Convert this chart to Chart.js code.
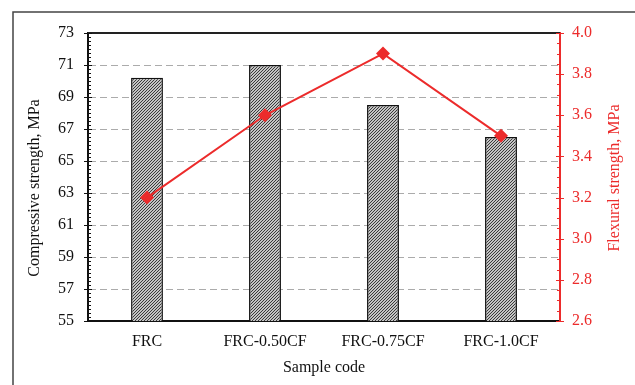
<!DOCTYPE html>
<html>
<head>
<meta charset="utf-8">
<script src="https://cdn.jsdelivr.net/npm/chart.js@4"></script>
<style>
  html, body { margin: 0; padding: 0; background: #fff; }
  #wrap { width: 635px; height: 385px; }
</style>
</head>
<body>
<div id="wrap"><canvas id="chart" width="635" height="385"></canvas></div>
<script>
// data
const categories = ['FRC', 'FRC-0.50CF', 'FRC-0.75CF', 'FRC-1.0CF'];
const compressive = [70.2, 71.0, 68.5, 66.5];   // MPa, left axis
const flexural = [3.2, 3.6, 3.9, 3.5];          // MPa, right axis

const RED = '#ec2b2b';
const SERIF = '"Liberation Serif", "Times New Roman", serif';

// hatch pattern for the bars
function makeHatch() {
    const s = 3;
    const pc = document.createElement('canvas');
    pc.width = s; pc.height = s;
    const c = pc.getContext('2d');
    c.fillStyle = '#c4c4c4';
    c.fillRect(0, 0, s, s);
    c.strokeStyle = '#3a3a3a';
    c.lineWidth = 1;
    c.beginPath();
    c.moveTo(0, s); c.lineTo(s, 0);
    c.moveTo(-1, 1); c.lineTo(1, -1);
    c.moveTo(s - 1, s + 1); c.lineTo(s + 1, s - 1);
    c.stroke();
    return document.getElementById('chart').getContext('2d').createPattern(pc, 'repeat');
}

// extra drawing: frame, top border, minor ticks, axis titles
const decorations = {
    id: 'decorations',
    beforeDraw(chart) {
        const ctx = chart.ctx;
        ctx.save();
        ctx.strokeStyle = '#444';
        ctx.lineWidth = 1.5;
        ctx.beginPath();
        ctx.moveTo(13, 385);
        ctx.lineTo(13, 12);
        ctx.lineTo(635, 12);
        ctx.stroke();
        ctx.restore();
    },
    afterDraw(chart) {
        const ctx = chart.ctx;
        const area = chart.chartArea;
        const y = chart.scales.y;
        const y1 = chart.scales.y1;
        ctx.save();

        // top border of plot
        ctx.strokeStyle = '#222';
        ctx.lineWidth = 2;
        ctx.beginPath();
        ctx.moveTo(area.left, area.top);
        ctx.lineTo(area.right, area.top);
        ctx.stroke();

        // left axis ticks (minor every 0.25)
        ctx.strokeStyle = '#111';
        ctx.lineWidth = 1;
        for (let i = 0; i <= 72; i++) {
            const py = Math.round(y.getPixelForValue(55 + i * 0.25)) + 0.5;
            const major = i % 8 === 0;
            ctx.beginPath();
            ctx.moveTo(area.left - (major ? 4 : 0), py);
            ctx.lineTo(area.left + (major ? 4 : 3), py);
            ctx.stroke();
        }

        // right axis ticks (minor every 0.05)
        ctx.strokeStyle = RED;
        for (let i = 0; i <= 28; i++) {
            const py = Math.round(y1.getPixelForValue(2.6 + i * 0.05)) + 0.5;
            const major = i % 4 === 0;
            ctx.beginPath();
            ctx.moveTo(area.right - (major ? 4 : 3), py);
            ctx.lineTo(area.right + (major ? 4 : 0), py);
            ctx.stroke();
        }

        // axis titles
        ctx.font = '16px ' + SERIF;
        ctx.textAlign = 'center';
        ctx.textBaseline = 'middle';

        ctx.fillStyle = '#111';
        ctx.fillText('Sample code', (area.left + area.right) / 2, 368);

        ctx.save();
        ctx.translate(35, 188);
        ctx.rotate(-Math.PI / 2);
        ctx.fillText('Compressive strength, MPa', 0, 0);
        ctx.restore();

        ctx.save();
        ctx.fillStyle = RED;
        ctx.translate(615, 178);
        ctx.rotate(-Math.PI / 2);
        ctx.fillText('Flexural strength, MPa', 0, 0);
        ctx.restore();

        ctx.restore();
    }
};

const chart = new Chart(document.getElementById('chart'), {
    data: {
        labels: categories,
        datasets: [
            {
                type: 'line',
                label: 'Flexural strength',
                data: flexural,
                yAxisID: 'y1',
                borderColor: RED,
                backgroundColor: RED,
                borderWidth: 2,
                pointStyle: 'rectRot',
                pointRadius: 7,
                pointBorderWidth: 0,
                tension: 0,
                order: 0
            },
            {
                type: 'bar',
                label: 'Compressive strength',
                data: compressive,
                yAxisID: 'y',
                backgroundColor: makeHatch(),
                borderColor: '#111',
                borderWidth: 1.5,
                categoryPercentage: 1,
                barPercentage: 0.27,
                order: 1
            }
        ]
    },
    options: {
        responsive: false,
        animation: false,
        layout: { padding: { top: 33, left: 0, right: 0, bottom: 0 } },
        plugins: {
            legend: { display: false },
            tooltip: { enabled: false }
        },
        scales: {
            x: {
                offset: true,
                grid: { display: false, drawTicks: false },
                border: { color: '#111', width: 2 },
                ticks: {
                    color: '#111',
                    font: { family: SERIF, size: 16 },
                    padding: 11,
                    maxRotation: 0
                },
                afterFit(scale) { scale.height = 64; }
            },
            y: {
                position: 'left',
                min: 55,
                max: 73,
                ticks: {
                    stepSize: 2,
                    color: '#111',
                    font: { family: SERIF, size: 16 },
                    padding: 14
                },
                grid: {
                    drawTicks: false,
                    lineWidth: 1,
                    color: (c) => (c.tick && (c.tick.value === 55 || c.tick.value === 73)) ? 'rgba(0,0,0,0)' : '#ababab'
                },
                border: { color: '#111', width: 2, dash: [7, 4] },
                afterFit(scale) { scale.width = 88; }
            },
            y1: {
                position: 'right',
                min: 2.6,
                max: 4.0,
                ticks: {
                    stepSize: 0.2,
                    color: RED,
                    font: { family: SERIF, size: 16 },
                    padding: 12,
                    callback: (v) => Number(v).toFixed(1)
                },
                grid: { display: false, drawTicks: false },
                border: { color: RED, width: 2 },
                afterFit(scale) { scale.width = 75; }
            }
        }
    },
    plugins: [decorations]
});
</script>
</body>
</html>
